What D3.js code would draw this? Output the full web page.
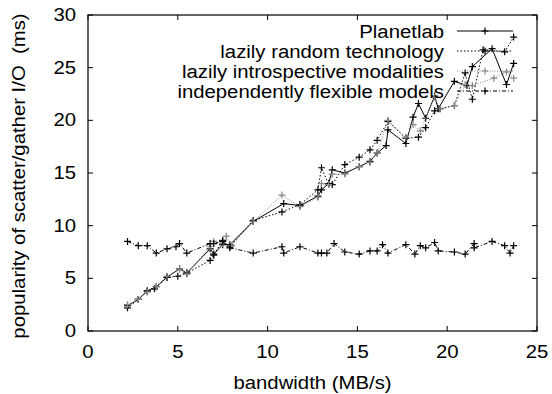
<!DOCTYPE html>
<meta charset="utf-8">
<style>
body { margin: 0; background: #fff; }
svg { font-family: "Liberation Sans", Arial, sans-serif; }
.frame { fill: none; stroke: #000; stroke-width: 1.2; }
.tick line { stroke: #000; stroke-width: 1; }
</style>
<script src="https://d3js.org/d3.v7.min.js"></script>
<body>
<script>

// series data (bandwidth MB/s, ms)
var planetX = [2.2, 2.8, 3.3, 3.8, 4.4, 5.1, 5.5, 6.8, 7.0, 7.5, 7.9, 9.2, 10.9, 11.8, 12.8, 13.0, 13.4, 13.6, 14.3, 15.1, 15.7, 16.1, 16.6, 16.7, 17.7, 18.1, 18.4, 18.8, 19.3, 19.5, 20.4, 21.1, 21.4, 22.5, 23.3, 23.7];
var planetY = [2.4, 3.0, 3.8, 4.2, 5.1, 5.9, 5.5, 7.8, 7.3, 8.2, 8.2, 10.4, 12.1, 11.9, 12.8, 13.4, 14.0, 15.3, 15.0, 15.6, 16.1, 16.9, 17.6, 19.1, 17.8, 20.3, 21.6, 20.2, 22.3, 21.1, 23.7, 23.3, 25.1, 26.8, 23.4, 25.4];

var randomX = [2.2, 2.8, 3.3, 3.7, 4.4, 5.0, 5.5, 6.8, 7.0, 7.5, 7.9, 9.2, 10.8, 11.8, 12.8, 13.0, 13.4, 13.6, 14.3, 15.1, 15.7, 16.1, 16.7, 17.7, 18.4, 18.8, 19.3, 19.6, 20.4, 21.0, 21.4, 22.0, 23.2, 23.7];
var randomY = [2.2, 3.0, 3.8, 4.0, 5.1, 5.2, 5.5, 6.7, 7.2, 8.6, 8.0, 10.5, 11.3, 12.0, 13.4, 15.5, 13.9, 13.9, 15.8, 16.5, 17.2, 18.1, 19.9, 18.3, 18.4, 19.3, 20.9, 21.1, 21.4, 24.5, 22.0, 26.7, 26.5, 27.9];

var introX = [2.2, 2.8, 3.3, 3.8, 4.4, 5.1, 5.5, 6.8, 7.0, 7.5, 7.7, 8.0, 9.2, 10.8, 11.8, 12.8, 13.0, 13.4, 13.6, 14.3, 15.1, 15.7, 16.1, 16.7, 17.7, 18.1, 18.5, 19.3, 19.6, 20.4, 21.0, 21.4, 22.6, 23.3, 23.7];
var introY = [2.5, 3.0, 3.7, 4.2, 5.2, 5.9, 5.4, 8.0, 8.5, 8.3, 9.0, 8.1, 10.4, 12.9, 11.8, 12.7, 14.0, 13.9, 14.9, 14.9, 15.6, 16.0, 16.9, 20.0, 18.4, 19.6, 19.0, 22.2, 21.1, 21.4, 23.4, 23.3, 24.0, 24.6, 24.0];

var flexX = [2.2, 2.8, 3.3, 3.8, 4.4, 4.9, 5.1, 5.5, 6.8, 7.0, 7.5, 7.9, 9.2, 10.8, 10.9, 11.8, 12.8, 13.0, 13.3, 13.7, 14.3, 15.1, 15.7, 16.1, 16.4, 16.7, 17.7, 18.2, 18.5, 18.8, 19.3, 19.5, 20.4, 21.0, 21.5, 21.5, 22.5, 23.2, 23.5, 23.7];
var flexY = [8.5, 8.1, 8.1, 7.4, 7.8, 8.0, 8.3, 7.4, 8.3, 8.3, 8.5, 7.9, 7.4, 8.0, 7.4, 8.0, 7.4, 7.4, 7.4, 8.3, 7.5, 7.3, 7.6, 7.6, 8.2, 7.4, 8.2, 7.3, 8.1, 7.9, 8.4, 7.6, 7.5, 7.3, 8.3, 7.9, 8.5, 8.1, 7.4, 8.1];

var seriesNames = ["Planetlab", "lazily random technology", "lazily introspective modalities", "independently flexible models"];
var xTicks = [0, 5, 10, 15, 20, 25];
var yTicks = [0, 5, 10, 15, 20, 25, 30];

var width = 552, height = 394;
var margin = {top: 15, right: 15, bottom: 63, left: 88};
var fs = 18, sx = 1.13;

var svg = d3.select("body").append("svg")
    .attr("width", width)
    .attr("height", height);

var x = d3.scaleLinear().domain([0, 25]).range([margin.left, width - margin.right]);
var y = d3.scaleLinear().domain([0, 30]).range([height - margin.bottom, margin.top]);

var styles = [
  {color: "#000", dash: null},
  {color: "#000", dash: "1.5,2"},
  {color: "#888", dash: "1,1.5"},
  {color: "#000", dash: "4,2,1,2"}
];
var series = [
  {xs: planetX, ys: planetY},
  {xs: randomX, ys: randomY},
  {xs: introX, ys: introY},
  {xs: flexX, ys: flexY}
];

// text is a bit wider than plain Arial in the original
function label(g, tx, ty, str, anchor, rot) {
  return g.append("text")
    .attr("transform", "translate(" + tx + "," + ty + ")" + (rot ? " rotate(" + rot + ")" : "") + " scale(" + sx + ",1)")
    .attr("text-anchor", anchor)
    .attr("font-size", fs)
    .attr("xml:space", "preserve")
    .text(str);
}

// ticks on all four sides, pointing inward
var tk = 5;
var ticks = svg.append("g").attr("class", "tick");
xTicks.forEach(function(d) {
  ticks.append("line").attr("x1", x(d)).attr("x2", x(d)).attr("y1", y(0)).attr("y2", y(0) - tk);
  ticks.append("line").attr("x1", x(d)).attr("x2", x(d)).attr("y1", y(30)).attr("y2", y(30) + tk);
  label(svg, x(d), y(0) + 27, d, "middle");
});
yTicks.forEach(function(d) {
  ticks.append("line").attr("x1", x(0)).attr("x2", x(0) + tk).attr("y1", y(d)).attr("y2", y(d));
  ticks.append("line").attr("x1", x(25)).attr("x2", x(25) - tk).attr("y1", y(d)).attr("y2", y(d));
  label(svg, x(0) - 12, y(d) + 6, d, "end");
});

label(svg, (x(0) + x(25)) / 2, 389, "bandwidth (MB/s)", "middle");
label(svg, 25, (y(0) + y(30)) / 2 + 3, "popularity of scatter/gather I/O  (ms)", "middle", -90);

function plus(g, px, py, color) {
  g.append("path")
    .attr("d", "M" + (px - 3.5) + "," + py + "h7M" + px + "," + (py - 3.5) + "v7")
    .attr("stroke", color).attr("stroke-width", 1.2).attr("fill", "none");
}

var line = d3.line().x(d => x(d[0])).y(d => y(d[1]));

series.forEach(function(s, i) {
  var pts = s.xs.map((v, j) => [v, s.ys[j]]);
  var g = svg.append("g");
  g.append("path").datum(pts)
    .attr("d", line)
    .attr("fill", "none")
    .attr("stroke", styles[i].color)
    .attr("stroke-width", 1)
    .attr("stroke-dasharray", styles[i].dash);
  pts.forEach(p => plus(g, x(p[0]), y(p[1]), styles[i].color));
});

// legend
var legY = [31, 51, 71, 91];
var leg = svg.append("g");
seriesNames.forEach(function(name, i) {
  label(leg, 444, legY[i] + 7, name, "end");
  leg.append("line")
    .attr("x1", 457).attr("x2", 513)
    .attr("y1", legY[i]).attr("y2", legY[i])
    .attr("stroke", styles[i].color).attr("stroke-width", 1)
    .attr("stroke-dasharray", styles[i].dash);
  plus(leg, 485, legY[i], styles[i].color);
});

svg.append("rect").attr("class", "frame")
  .attr("x", x(0)).attr("y", y(30))
  .attr("width", x(25) - x(0)).attr("height", y(0) - y(30));

</script>
</body>
